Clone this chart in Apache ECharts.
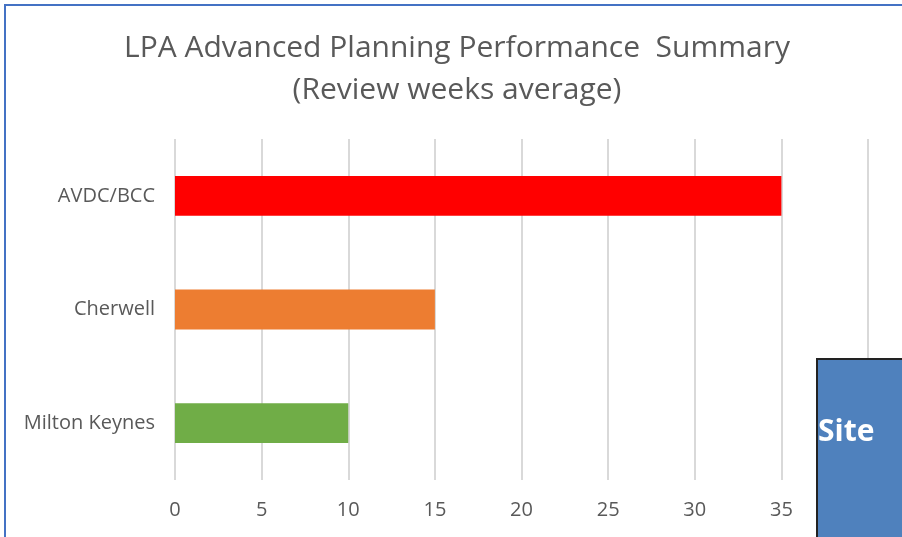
<!DOCTYPE html>
<html><head><meta charset="utf-8">
<script src="https://cdn.jsdelivr.net/npm/echarts@6/dist/echarts.min.js"></script>
<style>html,body{margin:0;padding:0;background:#fff}#c{width:902px;height:537px}</style>
</head><body><div id="c"></div>
<script>
const categories = ['AVDC/BCC', 'Cherwell', 'Milton Keynes'];
const values = [35, 15, 10];
const colors = ['#FF0000', '#ED7D31', '#70AD47'];
const titleLines = ['LPA Advanced Planning Performance  Summary', '(Review weeks average)'];

const chart = echarts.init(document.getElementById('c'));
chart.setOption({
  animation: false,
  title: {
    text: titleLines.join('\n'),
    left: 452, textAlign: 'center', top: 22,
    textStyle: { fontFamily: 'Open Sans', fontSize: 30, fontWeight: 'normal', color: '#595959', lineHeight: 42 }
  },
  grid: { left: 175, right: 34, top: 139, bottom: 57, containLabel: false },
  xAxis: {
    type: 'value', min: 0, max: 40, interval: 5,
    axisLine: { show: false }, axisTick: { show: false },
    axisLabel: { color: '#595959', fontSize: 20, fontFamily: 'Open Sans', margin: 20 },
    splitLine: { lineStyle: { color: '#D9D9D9', width: 2 } }
  },
  yAxis: {
    type: 'category', data: categories, inverse: true,
    axisLine: { show: false }, axisTick: { show: false },
    axisLabel: { color: '#595959', fontSize: 20, fontFamily: 'Open Sans', margin: 20 }
  },
  series: [{
    type: 'bar', barWidth: '35%',
    data: values.map((v, i) => ({ value: v, itemStyle: { color: colors[i] } }))
  }],
  graphic: [
    { type: 'rect', shape: { x: 5, y: 5, width: 920, height: 560 }, style: { fill: 'none', stroke: '#4472C4', lineWidth: 2 }, z: 100 },
    { type: 'rect', shape: { x: 817, y: 359, width: 100, height: 200 }, style: { fill: '#4F81BD', stroke: '#222', lineWidth: 2 }, z: 100 },
    { type: 'text', x: 818, y: 432, style: { text: 'Site', fill: '#fff', fontSize: 30, fontWeight: 'bold', fontFamily: 'Open Sans', verticalAlign: 'middle' }, z: 101 }
  ]
});
</script></body></html>
